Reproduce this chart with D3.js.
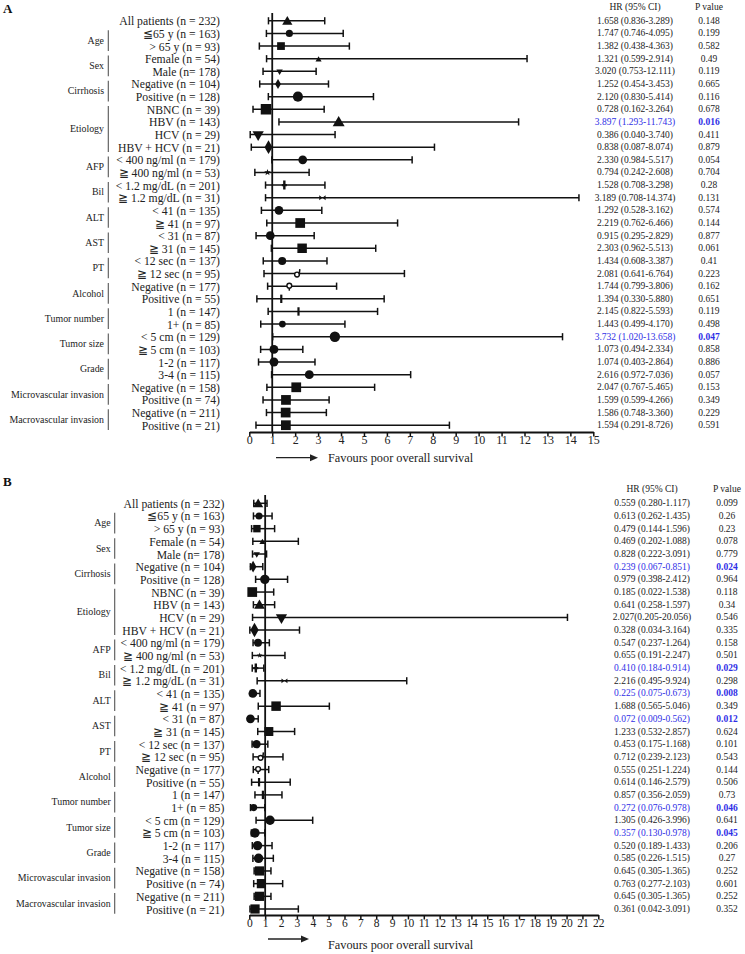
<!DOCTYPE html>
<html><head><meta charset="utf-8">
<script src="https://cdn.jsdelivr.net/npm/d3@7"></script>
<style>
body{margin:0;background:#fff}
svg{display:block}
text{font-family:"Liberation Serif","Times New Roman",serif;fill:#222}
</style>
</head><body>
<svg id="chart" width="745" height="954"></svg>
<script>
// ---------------- DATA ----------------
const rowLabels = [
  "All patients (n = 232)", "≦65 y (n = 163)", "> 65 y (n = 93)", "Female (n = 54)", "Male (n= 178)",
  "Negative (n = 104)", "Positive (n = 128)", "NBNC (n = 39)", "HBV (n = 143)", "HCV (n = 29)",
  "HBV + HCV (n = 21)", "< 400 ng/ml (n = 179)", "≧ 400 ng/ml (n = 53)", "< 1.2 mg/dL (n = 201)",
  "≧ 1.2 mg/dL (n = 31)", "< 41 (n = 135)", "≧ 41 (n = 97)", "< 31 (n = 87)", "≧ 31 (n = 145)",
  "< 12 sec (n = 137)", "≧ 12 sec (n = 95)", "Negative (n = 177)", "Positive (n = 55)", "1 (n = 147)",
  "1+ (n = 85)", "< 5 cm (n = 129)", "≧ 5 cm (n = 103)", "1-2 (n = 117)", "3-4 (n = 115)",
  "Negative (n = 158)", "Positive (n = 74)", "Negative (n = 211)", "Positive (n = 21)"
];
const groupNames = ["Age","Sex","Cirrhosis","Etiology","AFP","Bil","ALT","AST","PT","Alcohol",
  "Tumor number","Tumor size","Grade","Microvascular invasion","Macrovascular invasion"];
const groupStart = [1,3,5,7,11,13,15,17,19,21,23,25,27,29,31];
const groupEnd   = [2,4,6,10,12,14,16,18,20,22,24,26,28,30,32];

const markerKinds = ["triangle","circle","square","triangle","triangleDown","diamond","circle","square",
  "triangle","triangleDown","diamond","circle","star","plus","bowtie","circle","square","circle","square",
  "circle","openHook","openCircle","tick","tick","circle","circle","circle","circle","circle",
  "square","square","square","square"];
const markerSizesA = [45,40,60,16,18,30,80,110,62,55,55,60,14,22,40,60,95,60,90,50,20,20,16,16,36,85,62,62,62,95,95,95,95];
const markerSizesB = [45,40,55,16,18,40,70,95,50,55,60,50,10,20,35,60,90,60,80,55,20,20,16,16,40,70,70,70,70,85,85,85,85];

// Panel A (as plotted)
const hrA = [1.658,1.747,1.382,3.020,1.321,1.252,2.120,0.728,3.897,0.386,0.838,2.330,0.794,1.528,3.189,
  1.292,2.219,0.915,2.303,1.434,2.081,1.744,1.394,2.145,1.443,3.732,1.073,1.074,2.616,2.047,1.599,1.586,1.594];
const loA = [0.836,0.746,0.438,0.753,0.599,0.454,0.830,0.162,1.293,0.040,0.087,0.984,0.242,0.708,0.708,
  0.528,0.762,0.295,0.962,0.608,0.641,0.799,0.330,0.822,0.499,1.020,0.494,0.403,0.972,0.767,0.599,0.748,0.291];
const hiA = [3.289,4.095,4.363,12.111,2.914,3.453,5.414,3.264,11.743,3.740,8.074,7.100,2.608,3.298,14.374,
  3.162,6.466,2.829,5.513,3.387,6.764,3.806,5.880,5.593,4.170,13.658,2.334,2.864,7.036,5.465,3.480,3.360,8.726];
const hrTextA = ["1.658 (0.836-3.289)","1.747 (0.746-4.095)","1.382 (0.438-4.363)","1.321 (0.599-2.914)",
  "3.020 (0.753-12.111)","1.252 (0.454-3.453)","2.120 (0.830-5.414)","0.728 (0.162-3.264)",
  "3.897 (1.293-11.743)","0.386 (0.040-3.740)","0.838 (0.087-8.074)","2.330 (0.984-5.517)",
  "0.794 (0.242-2.608)","1.528 (0.708-3.298)","3.189 (0.708-14.374)","1.292 (0.528-3.162)",
  "2.219 (0.762-6.466)","0.915 (0.295-2.829)","2.303 (0.962-5.513)","1.434 (0.608-3.387)",
  "2.081 (0.641-6.764)","1.744 (0.799-3.806)","1.394 (0.330-5.880)","2.145 (0.822-5.593)",
  "1.443 (0.499-4.170)","3.732 (1.020-13.658)","1.073 (0.494-2.334)","1.074 (0.403-2.864)",
  "2.616 (0.972-7.036)","2.047 (0.767-5.465)","1.599 (0.599-4.266)","1.586 (0.748-3.360)","1.594 (0.291-8.726)"];
const pTextA = ["0.148","0.199","0.582","0.49","0.119","0.665","0.116","0.678","0.016","0.411","0.879",
  "0.054","0.704","0.28","0.131","0.574","0.144","0.877","0.061","0.41","0.223","0.162","0.651","0.119",
  "0.498","0.047","0.858","0.886","0.057","0.153","0.349","0.229","0.591"];
const sigRowsA = [8,25];

// Panel B (as plotted)
const hrB = [0.559,0.613,0.479,0.828,0.469,0.239,0.979,0.185,0.641,2.027,0.328,0.547,0.655,0.410,2.216,
  0.225,1.688,0.072,1.233,0.453,0.712,0.555,0.614,0.857,0.272,1.305,0.357,0.520,0.585,0.645,0.763,0.645,0.361];
const loB = [0.280,0.262,0.144,0.222,0.202,0.067,0.398,0.022,0.258,0.205,0.034,0.237,0.191,0.184,0.495,
  0.075,0.565,0.009,0.532,0.175,0.239,0.251,0.146,0.356,0.076,0.426,0.130,0.189,0.226,0.305,0.277,0.305,0.042];
const hiB = [1.117,1.435,1.596,3.091,1.088,0.851,2.412,1.538,1.597,20.056,3.164,1.264,2.247,0.914,9.924,
  0.673,5.046,0.562,2.857,1.168,2.123,1.224,2.579,2.059,0.978,3.996,0.978,1.433,1.515,1.365,2.103,1.365,3.091];
const hrTextB = ["0.559 (0.280-1.117)","0.613 (0.262-1.435)","0.479 (0.144-1.596)","0.469 (0.202-1.088)",
  "0.828 (0.222-3.091)","0.239 (0.067-0.851)","0.979 (0.398-2.412)","0.185 (0.022-1.538)",
  "0.641 (0.258-1.597)","2.027(0.205-20.056)","0.328 (0.034-3.164)","0.547 (0.237-1.264)",
  "0.655 (0.191-2.247)","0.410 (0.184-0.914)","2.216 (0.495-9.924)","0.225 (0.075-0.673)",
  "1.688 (0.565-5.046)","0.072 (0.009-0.562)","1.233 (0.532-2.857)","0.453 (0.175-1.168)",
  "0.712 (0.239-2.123)","0.555 (0.251-1.224)","0.614 (0.146-2.579)","0.857 (0.356-2.059)",
  "0.272 (0.076-0.978)","1.305 (0.426-3.996)","0.357 (0.130-0.978)","0.520 (0.189-1.433)",
  "0.585 (0.226-1.515)","0.645 (0.305-1.365)","0.763 (0.277-2.103)","0.645 (0.305-1.365)","0.361 (0.042-3.091)"];
const pTextB = ["0.099","0.26","0.23","0.078","0.779","0.024","0.964","0.118","0.34","0.546","0.335",
  "0.158","0.501","0.029","0.298","0.008","0.349","0.012","0.624","0.101","0.543","0.144","0.506","0.73",
  "0.046","0.641","0.045","0.206","0.27","0.252","0.601","0.252","0.352"];
const sigRowsB = [5,13,15,17,24,26];

const ticksA = d3.range(0, 16);
const ticksB = d3.range(0, 23);
const xLabel = "Favours poor overall survival";
const hrHeader = "HR (95% CI)";
const pHeader = "P value";

// ---------------- DRAWING ----------------
const svg = d3.select("#chart");
svg.append("rect").attr("width",745).attr("height",954).attr("fill","#fff");
const BLUE = "#2f2fe6";

const customSymbols = {
  bowtie: {draw(c, s){ const r = Math.sqrt(s)/2;
    c.moveTo(-r,-r*0.8); c.lineTo(0,0); c.lineTo(-r,r*0.8); c.closePath();
    c.moveTo(r,-r*0.8); c.lineTo(0,0); c.lineTo(r,r*0.8); c.closePath(); }},
  plus: {draw(c, s){ const h = 4.5, w = 1.2, a = 2.5;
    c.moveTo(-w,-h); c.lineTo(w,-h); c.lineTo(w,-w); c.lineTo(a,-w); c.lineTo(a,w); c.lineTo(w,w);
    c.lineTo(w,h); c.lineTo(-w,h); c.lineTo(-w,w); c.lineTo(-a,w); c.lineTo(-a,-w); c.lineTo(-w,-w); c.closePath(); }},
  tick: {draw(c, s){ const h = 4.2, w = 1.1;
    c.moveTo(-w,-h); c.lineTo(w,-h); c.lineTo(w,h); c.lineTo(-w,h); c.closePath(); }}
};
function symbolType(kind){
  switch(kind){
    case "triangle": return d3.symbolTriangle;
    case "circle": return d3.symbolCircle;
    case "square": return d3.symbolSquare;
    case "diamond": return d3.symbolDiamond;
    case "star": return d3.symbolStar;
    case "triangleDown": return d3.symbolTriangle;
    default: return customSymbols[kind] || d3.symbolCircle;
  }
}

function drawPanel(cfg){
  const g = svg.append("g");
  const x = d3.scaleLinear().domain(cfg.domain).range(cfg.range);
  const n = rowLabels.length;
  const y = d3.scaleLinear().domain([0, n-1]).range([cfg.rowY0, cfg.rowYN]);
  const rows = d3.range(n);

  // panel letter
  g.append("text").attr("x", cfg.letterX).attr("y", cfg.letterY).text(cfg.letter)
    .attr("font-weight","bold").attr("font-size", 13).style("fill","#111");

  // row labels
  g.selectAll("text.rl").data(rows).join("text").attr("class","rl")
    .attr("x", cfg.labelRight).attr("y", i => y(i) + 1)
    .attr("text-anchor","end").attr("dominant-baseline","central")
    .attr("font-size", 11.7).text(i => rowLabels[i]);

  // group labels and brackets
  const gi = d3.range(groupNames.length);
  g.selectAll("line.br").data(gi).join("line").attr("class","br")
    .attr("x1", cfg.bracketX).attr("x2", cfg.bracketX)
    .attr("y1", i => y(groupStart[i]) - 3.2).attr("y2", i => y(groupEnd[i]) + 4.8)
    .attr("stroke","#555").attr("stroke-width", 1.1);
  g.selectAll("text.gl").data(gi).join("text").attr("class","gl")
    .attr("x", cfg.groupRight).attr("y", i => (y(groupStart[i]) + y(groupEnd[i]))/2 + 0.5)
    .attr("text-anchor","end").attr("dominant-baseline","central")
    .attr("font-size", 9.9).text(i => groupNames[i]);

  // reference line at HR = 1
  g.append("line").attr("x1", x(1)).attr("x2", x(1)).attr("y1", cfg.refTop).attr("y2", cfg.axisY)
    .attr("stroke","#111").attr("stroke-width", 1.8);

  // CI lines & caps
  g.selectAll("line.ci").data(rows).join("line").attr("class","ci")
    .attr("x1", i => x(cfg.lo[i])).attr("x2", i => x(cfg.hi[i]))
    .attr("y1", i => y(i)).attr("y2", i => y(i))
    .attr("stroke","#111").attr("stroke-width", 1.5);
  ["lo","hi"].forEach(k => {
    g.selectAll("line.cap"+k).data(rows).join("line").attr("class","cap"+k)
      .attr("x1", i => x(cfg[k][i])).attr("x2", i => x(cfg[k][i]))
      .attr("y1", i => y(i) - 3.6).attr("y2", i => y(i) + 3.6)
      .attr("stroke","#111").attr("stroke-width", 1.5);
  });

  // markers
  rows.forEach(i => {
    const kind = markerKinds[i];
    const cx = x(cfg.hr[i]), cy = y(i);
    if (kind === "openCircle" || kind === "openHook"){
      g.append("circle").attr("cx", cx).attr("cy", cy + (kind === "openHook" ? 1 : -0.5)).attr("r", 2.4)
        .attr("fill","#fff").attr("stroke","#111").attr("stroke-width", 1.4);
      if (kind === "openCircle"){
        g.append("line").attr("x1", cx).attr("x2", cx).attr("y1", cy + 1.8).attr("y2", cy + 4.5)
          .attr("stroke","#111").attr("stroke-width", 1.5);
      } else {
        g.append("line").attr("x1", cx + 2.2).attr("x2", cx + 2.8).attr("y1", cy + 1).attr("y2", cy - 4.5)
          .attr("stroke","#111").attr("stroke-width", 1.5);
      }
      return;
    }
    const sym = d3.symbol().type(symbolType(kind)).size(cfg.sizes[i]);
    g.append("path").attr("d", sym())
      .attr("transform", `translate(${cx},${cy + (kind==="triangle"?1:0)})` + (kind === "triangleDown" ? " rotate(180)" : ""))
      .attr("fill","#111");
  });

  // axis
  const axis = d3.axisBottom(x).tickValues(cfg.ticks).tickSize(4.5).tickSizeOuter(0).tickFormat(d3.format("d"));
  const ag = g.append("g").attr("transform", `translate(0,${cfg.axisY})`).call(axis);
  ag.select(".domain").attr("stroke","#111").attr("stroke-width", 2);
  ag.selectAll(".tick line").attr("stroke","#111").attr("stroke-width", 1.5);
  ag.selectAll(".tick text").attr("font-size", cfg.tickFont).attr("dy", "0.6em").attr("y", 5)
    .style("font-family","'Liberation Serif','Times New Roman',serif").style("fill","#222");

  // favours label & arrow
  g.append("text").attr("x", cfg.favX).attr("y", cfg.favY).attr("dominant-baseline","central")
    .attr("font-size", 12.3).text(xLabel);
  g.append("line").attr("x1", cfg.arrowX1).attr("x2", cfg.arrowX2 - 6).attr("y1", cfg.arrowY).attr("y2", cfg.arrowY)
    .attr("stroke","#222").attr("stroke-width", 1.3);
  g.append("path").attr("d", d3.line()([[cfg.arrowX2 - 8, cfg.arrowY - 3.5],[cfg.arrowX2, cfg.arrowY],[cfg.arrowX2 - 8, cfg.arrowY + 3.5]]) + "Z")
    .attr("fill","#222");

  // headers
  g.append("text").attr("x", cfg.hrX).attr("y", cfg.headerY).attr("text-anchor","middle")
    .attr("dominant-baseline","central").attr("font-size", 9.5).text(hrHeader);
  g.append("text").attr("x", cfg.pX).attr("y", cfg.headerY).attr("text-anchor","middle")
    .attr("dominant-baseline","central").attr("font-size", 9.5).text(pHeader);

  // HR and P texts
  g.selectAll("text.hr").data(rows).join("text").attr("class","hr")
    .attr("x", cfg.hrX).attr("y", i => y(i)).attr("text-anchor","middle").attr("dominant-baseline","central")
    .attr("font-size", 9.5).text(i => cfg.hrText[i])
    .style("fill", i => cfg.sig.includes(i) ? BLUE : "#222");
  g.selectAll("text.pv").data(rows).join("text").attr("class","pv")
    .attr("x", cfg.pX).attr("y", i => y(i)).attr("text-anchor","middle").attr("dominant-baseline","central")
    .attr("font-size", 9.5).text(i => cfg.pText[i])
    .attr("font-weight", i => cfg.sig.includes(i) ? "bold" : "normal")
    .style("fill", i => cfg.sig.includes(i) ? BLUE : "#222");
}

drawPanel({
  letter:"A", letterX:3, letterY:13,
  domain:[0,15], range:[249.3,593.3], ticks:ticksA, tickFont:12,
  rowY0:20.8, rowYN:425.2, axisY:432, refTop:13,
  labelRight:220, groupRight:104, bracketX:108.3,
  hrX:635, pX:709, headerY:7,
  favX:328, favY:458, arrowX1:276, arrowX2:318, arrowY:457.7,
  hr:hrA, lo:loA, hi:hiA, hrText:hrTextA, pText:pTextA, sig:sigRowsA, sizes:markerSizesA
});
drawPanel({
  letter:"B", letterX:3, letterY:486,
  domain:[0,22], range:[249.3,598.3], ticks:ticksB, tickFont:11.5,
  rowY0:503.3, rowYN:909, axisY:915, refTop:495,
  labelRight:224.3, groupRight:110.7, bracketX:114.7,
  hrX:652, pX:727, headerY:489,
  favX:328, favY:945, arrowX1:268, arrowX2:309, arrowY:939,
  hr:hrB, lo:loB, hi:hiB, hrText:hrTextB, pText:pTextB, sig:sigRowsB, sizes:markerSizesB
});
</script>
</body></html>
